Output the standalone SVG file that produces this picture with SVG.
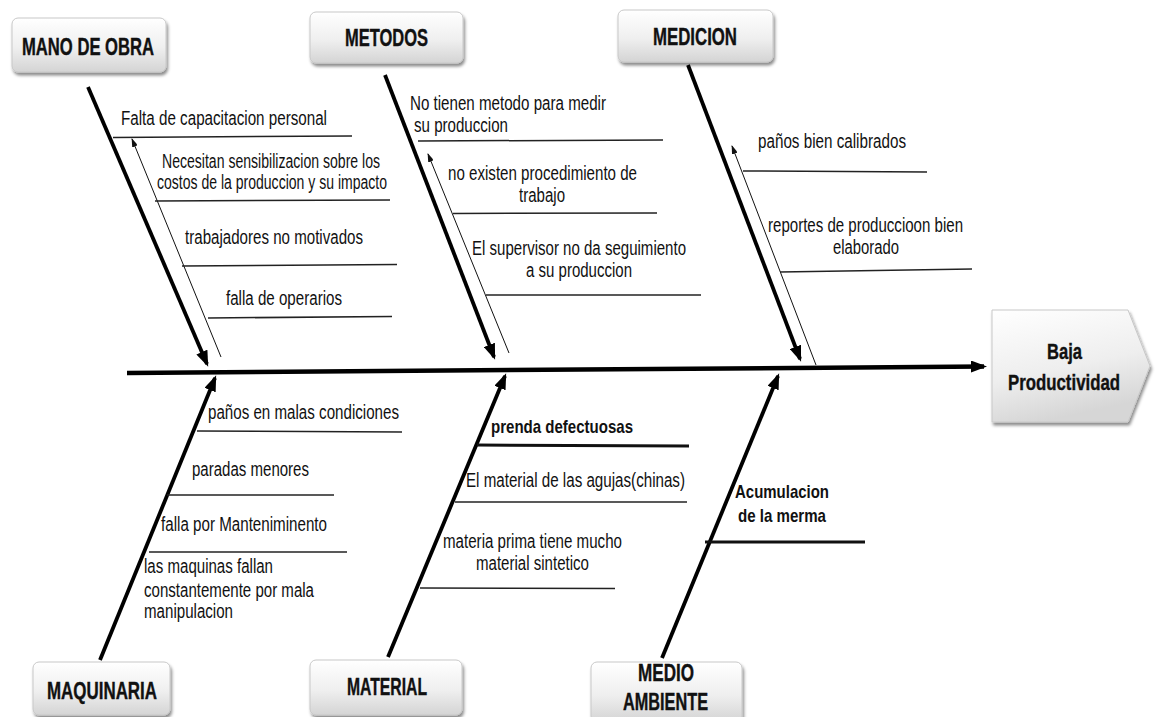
<svg xmlns="http://www.w3.org/2000/svg" width="1155" height="717" viewBox="0 0 1155 717">
<style>
.c{font-family:"Liberation Sans Narrow","Liberation Sans",Arial,sans-serif;font-size:20px;fill:#111}
.b{font-family:"Liberation Sans Narrow","Liberation Sans",Arial,sans-serif;font-size:19px;font-weight:bold;fill:#111}
.h{font-family:"Liberation Sans Narrow","Liberation Sans",Arial,sans-serif;font-size:24px;font-weight:bold;fill:#111;stroke:#111;stroke-width:0.4}
.box{fill:url(#g);stroke:#c8c8c8;stroke-width:1;filter:url(#sh)}
.cl{stroke:#222;stroke-width:1.5;fill:none}
.cb{stroke:#111;stroke-width:3;fill:none}
.bone{stroke:#000;stroke-width:3.8;fill:none;marker-end:url(#ah)}
.thin{stroke:#111;stroke-width:1;fill:none;marker-end:url(#as)}
</style>
<defs>
<linearGradient id="g" x1="0" y1="0" x2="0" y2="1">
<stop offset="0" stop-color="#ffffff"/>
<stop offset="0.55" stop-color="#efefef"/>
<stop offset="1" stop-color="#d4d4d4"/>
</linearGradient>
<linearGradient id="g2" x1="0" y1="0" x2="0.3" y2="1">
<stop offset="0" stop-color="#ffffff"/>
<stop offset="0.6" stop-color="#eeeeee"/>
<stop offset="1" stop-color="#d6d6d6"/>
</linearGradient>
<filter id="sh" x="-10%" y="-10%" width="125%" height="140%">
<feDropShadow dx="1.5" dy="3" stdDeviation="1.8" flood-color="#000" flood-opacity="0.45"/>
</filter>
<marker id="ah" markerUnits="userSpaceOnUse" markerWidth="16" markerHeight="12" refX="13" refY="6" orient="auto">
<path d="M0,0 L16,6 L0,12 z" fill="#000"/>
</marker>
<marker id="as" markerUnits="userSpaceOnUse" markerWidth="9" markerHeight="6" refX="8" refY="3" orient="auto">
<path d="M0,0 L9,3 L0,6 z" fill="#111"/>
</marker>
</defs>
<rect width="1155" height="717" fill="#fff"/>

<g id="connectors">
<line class="bone" x1="127" y1="373" x2="984" y2="366.5" style="stroke-width:4.5"/>
<line class="bone" x1="88" y1="87" x2="207" y2="364"/>
<line class="bone" x1="385" y1="75" x2="494" y2="357"/>
<line class="bone" x1="688" y1="65" x2="800" y2="359"/>
<line class="bone" x1="100" y1="660" x2="215" y2="378"/>
<line class="bone" x1="388" y1="657" x2="505" y2="376"/>
<line class="bone" x1="662" y1="658" x2="778" y2="376"/>
<line class="thin" x1="221" y1="357" x2="132" y2="139"/>
<line class="thin" x1="509" y1="353" x2="428" y2="154"/>
<line class="thin" x1="816" y1="365" x2="732" y2="146"/>
</g>

<g id="mano-de-obra">
<rect class="box" x="12" y="18" width="154" height="54" rx="6"/>
<text class="h" x="22" y="55" textLength="132" lengthAdjust="spacingAndGlyphs">MANO DE OBRA</text>
<text class="c" x="121" y="125" textLength="206" lengthAdjust="spacingAndGlyphs">Falta de capacitacion personal</text>
<line class="cl" x1="113" y1="137.5" x2="352" y2="136"/>
<text class="c" x="162" y="168" textLength="218" lengthAdjust="spacingAndGlyphs">Necesitan sensibilizacion sobre los</text>
<text class="c" x="157" y="189" textLength="230" lengthAdjust="spacingAndGlyphs">costos de la produccion y su impacto</text>
<line class="cl" x1="155" y1="201" x2="390" y2="200"/>
<text class="c" x="185" y="244" textLength="178" lengthAdjust="spacingAndGlyphs">trabajadores no motivados</text>
<line class="cl" x1="182" y1="266" x2="397" y2="264.5"/>
<text class="c" x="226" y="305" textLength="116" lengthAdjust="spacingAndGlyphs">falla de operarios</text>
<line class="cl" x1="208" y1="318" x2="392" y2="316.5"/>
</g>

<g id="metodos">
<rect class="box" x="310" y="12" width="153" height="51" rx="6"/>
<text class="h" x="345" y="46" textLength="83" lengthAdjust="spacingAndGlyphs">METODOS</text>
<text class="c" x="410" y="110" textLength="196" lengthAdjust="spacingAndGlyphs">No tienen metodo para medir</text>
<text class="c" x="414" y="132" textLength="94" lengthAdjust="spacingAndGlyphs">su produccion</text>
<line class="cl" x1="418" y1="141" x2="663" y2="140"/>
<text class="c" x="448" y="180" textLength="189" lengthAdjust="spacingAndGlyphs">no existen procedimiento de</text>
<text class="c" x="519" y="202" textLength="46" lengthAdjust="spacingAndGlyphs">trabajo</text>
<line class="cl" x1="453" y1="213.5" x2="657" y2="213"/>
<text class="c" x="472" y="255" textLength="214" lengthAdjust="spacingAndGlyphs">El supervisor no da seguimiento</text>
<text class="c" x="526" y="277" textLength="106" lengthAdjust="spacingAndGlyphs">a su produccion</text>
<line class="cl" x1="486" y1="295" x2="701" y2="295"/>
</g>

<g id="medicion">
<rect class="box" x="618" y="10" width="155" height="52" rx="6"/>
<text class="h" x="653" y="45" textLength="84" lengthAdjust="spacingAndGlyphs">MEDICION</text>
<text class="c" x="758" y="148" textLength="148" lengthAdjust="spacingAndGlyphs">paños bien calibrados</text>
<line class="cl" x1="743" y1="171" x2="927" y2="172"/>
<text class="c" x="768" y="232" textLength="195" lengthAdjust="spacingAndGlyphs">reportes de produccioon bien</text>
<text class="c" x="833" y="254" textLength="66" lengthAdjust="spacingAndGlyphs">elaborado</text>
<line class="cl" x1="780" y1="272" x2="972" y2="269"/>
</g>

<g id="baja-productividad">
<path d="M992,310 L1128,310 L1150,366 L1128,422 L992,422 Z" fill="url(#g2)" stroke="#c8c8c8" stroke-width="1" filter="url(#sh)"/>
<text class="h" x="1047" y="359" textLength="35" lengthAdjust="spacingAndGlyphs" style="font-size:22px">Baja</text>
<text class="h" x="1008" y="390" textLength="112" lengthAdjust="spacingAndGlyphs" style="font-size:22px">Productividad</text>
</g>

<g id="maquinaria">
<rect class="box" x="33" y="662" width="137" height="53" rx="6"/>
<text class="h" x="47" y="699" textLength="110" lengthAdjust="spacingAndGlyphs">MAQUINARIA</text>
<text class="c" x="208" y="419" textLength="191" lengthAdjust="spacingAndGlyphs">paños en malas condiciones</text>
<line class="cl" x1="197" y1="431" x2="402" y2="432"/>
<text class="c" x="192" y="476" textLength="117" lengthAdjust="spacingAndGlyphs">paradas menores</text>
<line class="cl" x1="167" y1="495" x2="334" y2="495"/>
<text class="c" x="161" y="531" textLength="166" lengthAdjust="spacingAndGlyphs">falla por Manteniminento</text>
<line class="cl" x1="149" y1="552" x2="347" y2="552"/>
<text class="c" x="144" y="573" textLength="129" lengthAdjust="spacingAndGlyphs">las maquinas fallan</text>
<text class="c" x="144" y="597" textLength="170" lengthAdjust="spacingAndGlyphs">constantemente por mala</text>
<text class="c" x="144" y="618" textLength="89" lengthAdjust="spacingAndGlyphs">manipulacion</text>
</g>

<g id="material">
<rect class="box" x="310" y="660" width="152" height="55" rx="6"/>
<text class="h" x="347" y="695" textLength="80" lengthAdjust="spacingAndGlyphs">MATERIAL</text>
<text class="b" x="491" y="433" textLength="142" lengthAdjust="spacingAndGlyphs">prenda defectuosas</text>
<line class="cb" x1="477" y1="445" x2="689" y2="446"/>
<text class="c" x="466" y="487" textLength="219" lengthAdjust="spacingAndGlyphs">El material de las agujas(chinas)</text>
<line class="cl" x1="455" y1="502" x2="687" y2="502"/>
<text class="c" x="443" y="548" textLength="179" lengthAdjust="spacingAndGlyphs">materia prima tiene mucho</text>
<text class="c" x="476" y="570" textLength="113" lengthAdjust="spacingAndGlyphs">material sintetico</text>
<line class="cl" x1="420" y1="588" x2="615" y2="588.5"/>
</g>

<g id="medio-ambiente">
<rect class="box" x="591" y="662" width="151" height="60" rx="6"/>
<text class="h" x="638" y="681" textLength="56" lengthAdjust="spacingAndGlyphs">MEDIO</text>
<text class="h" x="623" y="710" textLength="85" lengthAdjust="spacingAndGlyphs">AMBIENTE</text>
<text class="b" x="735" y="498" textLength="94" lengthAdjust="spacingAndGlyphs">Acumulacion</text>
<text class="b" x="738" y="522" textLength="88" lengthAdjust="spacingAndGlyphs">de la merma</text>
<line class="cb" x1="705" y1="542" x2="865" y2="542"/>
</g>
</svg>
